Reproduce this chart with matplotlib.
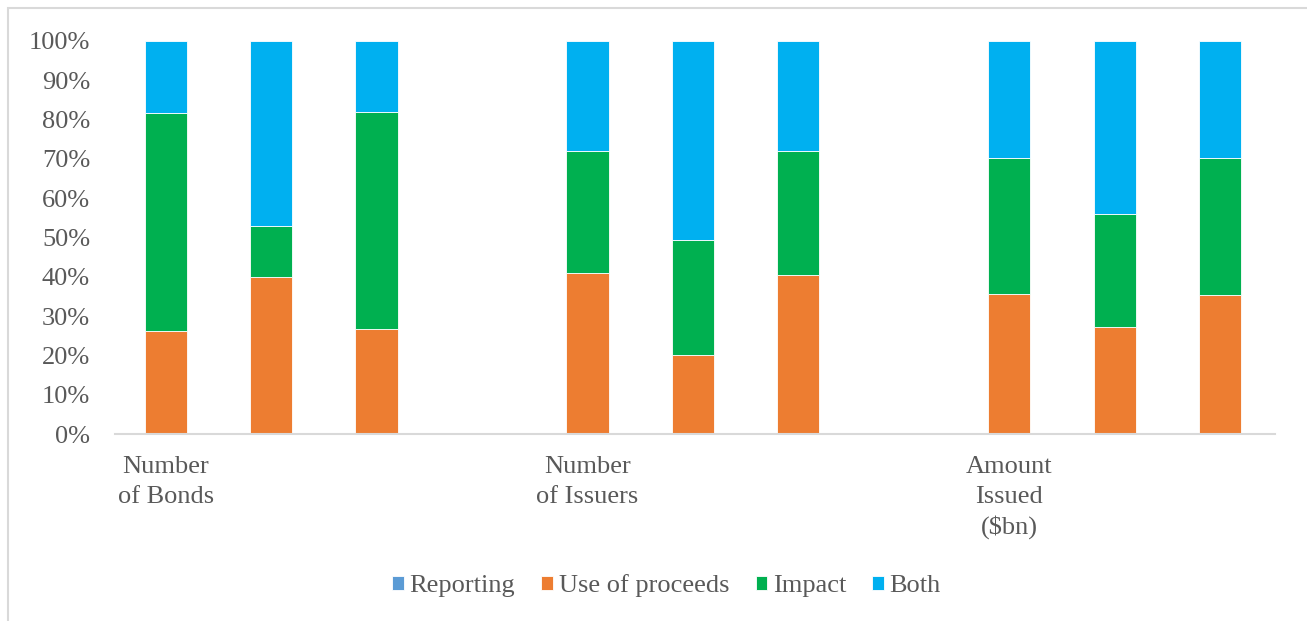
import numpy as np
import matplotlib.pyplot as plt
from matplotlib.patches import Rectangle

plt.rcParams['font.family'] = ['Liberation Serif', 'DejaVu Serif']

# 11 slots on the x axis, empty ones are the gaps between groups
slots = np.arange(11)
groups = ["Number\nof Bonds", "Number\nof Issuers", "Amount\nIssued\n($bn)"]
group_pos = [0, 4, 8]

series = ["Reporting", "Use of proceeds", "Impact", "Both"]
colors = ["#5B9BD5", "#ED7D31", "#00B050", "#00B0F0"]

# shares in %, nan = no bar in that slot
nan = np.nan
reporting = [0, 0, 0, nan, 0, 0, 0, nan, 0, 0, 0]
use_of_proceeds = [26.2, 40.0, 26.7, nan, 41.0, 20.1, 40.5, nan, 35.6, 27.2, 35.4]
impact = [55.5, 12.9, 55.2, nan, 31.0, 29.3, 31.5, nan, 34.6, 28.8, 34.8]
both = [18.3, 47.1, 18.1, nan, 28.0, 50.6, 28.0, nan, 29.8, 44.0, 29.8]


def main():
    fig = plt.figure(figsize=(13.07, 6.21), dpi=100)
    ax = fig.add_axes([0.088, 0.301, 0.8875, 0.633])

    data = [reporting, use_of_proceeds, impact, both]
    bottom = np.zeros(len(slots))
    for name, vals, c in zip(series, data, colors):
        v = np.array(vals, dtype=float)
        ax.bar(slots, v, 0.4, bottom=bottom, color=c, label=name,
               edgecolor="white", linewidth=0.6)
        bottom = bottom + np.nan_to_num(v)

    ax.set_xlim(-0.48, 10.52)
    ax.set_ylim(0, 100)
    ax.set_yticks(np.arange(0, 101, 10))
    ax.set_yticklabels([f"{i}%" for i in range(0, 101, 10)])
    ax.set_xticks(group_pos)
    ax.set_xticklabels(groups, linespacing=1.43, va="top")
    ax.tick_params(axis="both", length=0, labelsize=19, colors="#595959")
    ax.tick_params(axis="x", pad=16)
    ax.tick_params(axis="y", pad=18)
    for s in ["top", "right", "left"]:
        ax.spines[s].set_visible(False)
    ax.spines["bottom"].set_color("#D9D9D9")
    ax.spines["bottom"].set_linewidth(1.5)

    leg = fig.legend(loc="center", bbox_to_anchor=(0.51, 0.057), ncol=4,
                     frameon=False, fontsize=19, handlelength=0.45,
                     handleheight=0.45, handletextpad=0.2, columnspacing=1.0)
    for t in leg.get_texts():
        t.set_color("#595959")

    # chart frame (only top/left edge visible in the picture)
    fig.patches.append(Rectangle((8 / 1307, -0.1), 1.2, 1.1 - 8 / 621,
                                 transform=fig.transFigure, fill=False,
                                 edgecolor="#D9D9D9", linewidth=1.5))

    fig.savefig("out.png", dpi=100)


if __name__ == "__main__":
    main()
